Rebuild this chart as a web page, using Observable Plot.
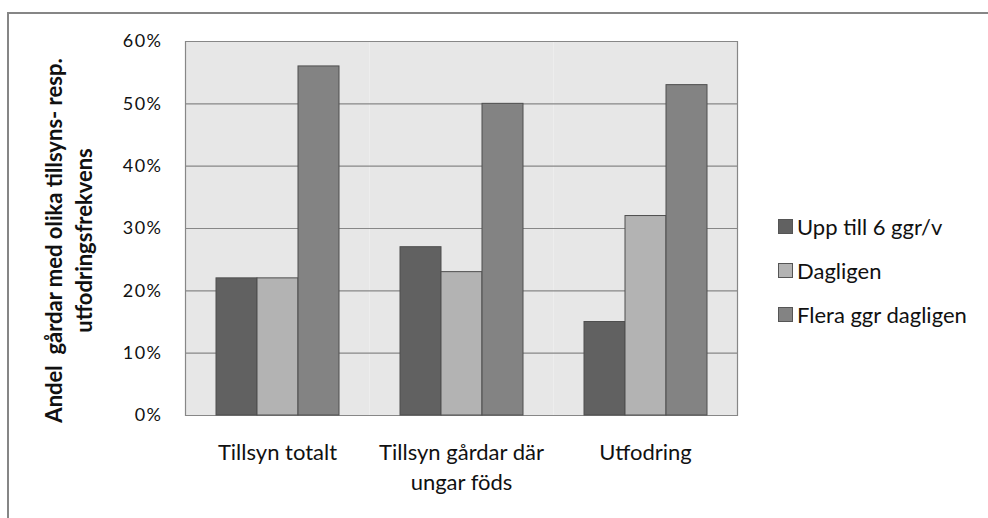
<!DOCTYPE html>
<html>
<head>
<meta charset="utf-8">
<script src="https://cdn.jsdelivr.net/npm/d3@7"></script>
<script src="https://cdn.jsdelivr.net/npm/@observablehq/plot@0.6"></script>
<style>
  html, body { margin: 0; padding: 0; background: #fff; }
  #wrap { position: relative; width: 988px; height: 518px; overflow: hidden; }
  #border { position: absolute; left: 7px; top: 12px; width: 1000px; height: 600px;
            border-left: 2px solid #868686; border-top: 2px solid #868686; }
  #chart { position: absolute; left: 0; top: 0; }
  #legend { position: absolute; left: 778px; top: 212px; font-family: "Lato", sans-serif; font-size: 22px; color: #111; }
  #legend .row { display: flex; align-items: center; height: 28px; margin-bottom: 16px; }
  #legend .sw { width: 15px; height: 15px; box-sizing: border-box; border: 1px solid #555; margin-right: 4px; }
  g[aria-label="y-axis tick label"] text { letter-spacing: 1.5px; }
</style>
</head>
<body>
<div id="wrap">
  <div id="border"></div>
  <div id="chart"></div>
  <div id="legend"></div>
</div>
<script>
const categories = ["Tillsyn totalt", "Tillsyn gårdar där ungar föds", "Utfodring"];
const series = ["Upp till 6 ggr/v", "Dagligen", "Flera ggr dagligen"];
const valuesUpp = [0.22, 0.27, 0.15];
const valuesDagligen = [0.22, 0.23, 0.32];
const valuesFlera = [0.56, 0.50, 0.53];
const colors = ["#616161", "#b3b3b3", "#838383"];
const yTicks = [0, 0.1, 0.2, 0.3, 0.4, 0.5, 0.6];
const categoryLabels = ["Tillsyn totalt", "Tillsyn gårdar där\nungar föds", "Utfodring"];
const yTitle = "Andel  gårdar med olika tillsyns- resp.\nutfodringsfrekvens";

const seriesValues = [valuesUpp, valuesDagligen, valuesFlera];
const data = [];
categories.forEach((c, i) => series.forEach((s, j) => data.push({category: c, series: s, value: seriesValues[j][i]})));

const font = '"Lato", sans-serif';

const chart = Plot.plot({
  width: 988,
  height: 518,
  marginLeft: 184,
  marginRight: 250,
  marginTop: 41,
  marginBottom: 103,
  style: { fontFamily: font, fontSize: "18px", color: "#111", background: "transparent" },
  fx: { domain: categories, padding: 0, label: null },
  x: { domain: series, paddingInner: 0, paddingOuter: 0.74, axis: null },
  y: { domain: [0, 0.6], label: null },
  color: { domain: series, range: colors },
  marks: [
    Plot.frame({ fill: "#e7e7e7" }),
    Plot.ruleY(yTicks, { stroke: "#878787", strokeWidth: 1.2 }),
    Plot.frame({ anchor: "left", stroke: "#878787", strokeWidth: 1.2, facetAnchor: "left" }),
    Plot.frame({ anchor: "right", stroke: "#878787", strokeWidth: 1.2, facetAnchor: "right" }),
    Plot.barY(data, { fx: "category", x: "series", y: "value", fill: "series", stroke: "#4f4f4f", strokeWidth: 1, inset: 0 }),
    Plot.axisY({ ticks: yTicks, tickFormat: d => Math.round(d * 100) + "%", tickSize: 0, tickPadding: 23, fontSize: 18, label: null }),
    Plot.text([yTitle], { frameAnchor: "left", facetAnchor: "left", textAnchor: "middle", rotate: -90, dx: -118, dy: 12, fontSize: 22, fontWeight: "bold", lineHeight: 1.35, fill: "#111" }),
    Plot.axisFx({ anchor: "bottom", tickFormat: d => categoryLabels[categories.indexOf(d)], tickSize: 0, tickPadding: 23, fontSize: 22, lineHeight: 1.37, label: null })
  ]
});
document.getElementById("chart").appendChild(chart);

const legend = document.getElementById("legend");
series.forEach((s, i) => {
  const row = document.createElement("div");
  row.className = "row";
  const sw = document.createElement("div");
  sw.className = "sw";
  sw.style.background = colors[i];
  const t = document.createElement("span");
  t.textContent = s;
  row.appendChild(sw); row.appendChild(t);
  legend.appendChild(row);
});
</script>
</body>
</html>
